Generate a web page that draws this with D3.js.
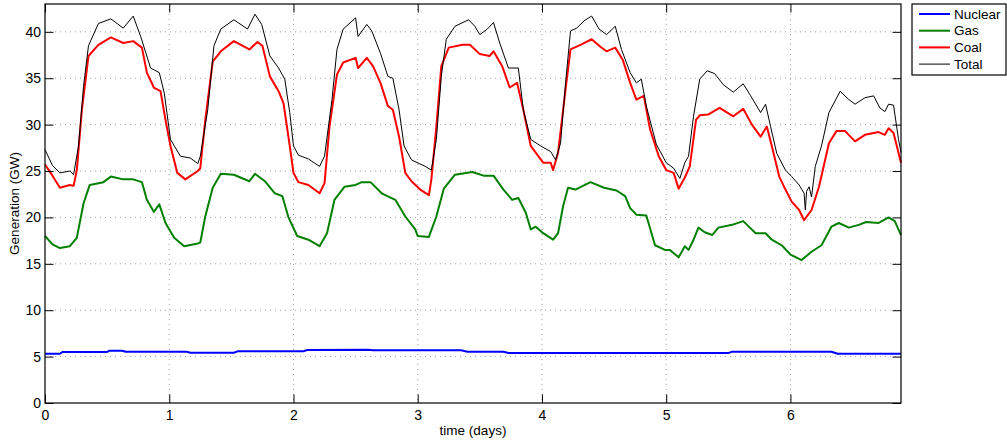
<!DOCTYPE html>
<html>
<head>
<meta charset="utf-8">
<script src="https://cdn.jsdelivr.net/npm/d3@7"></script>
<style>
  html, body { margin: 0; padding: 0; background: #fff; }
  svg { display: block; font-family: "Liberation Sans", Arial, Helvetica, sans-serif; }
</style>
</head>
<body>
<svg id="chart"></svg>
<script>
// [day, GW] samples
const nuclear = [[0,5.31],[0.12,5.31],[0.14,5.5],[0.5,5.5],[0.52,5.64],[0.62,5.64],[0.65,5.53],[1.14,5.53],[1.17,5.42],[1.52,5.42],[1.55,5.57],[2.08,5.57],[2.11,5.71],[2.6,5.73],[2.64,5.68],[3.35,5.68],[3.4,5.53],[3.69,5.53],[3.73,5.38],[5.5,5.38],[5.53,5.53],[6.33,5.53],[6.38,5.31],[6.89,5.31]];

const gas = [[0,18.0],[0.06,17.1],[0.12,16.7],[0.2,16.9],[0.256,17.8],[0.31,21.5],[0.36,23.5],[0.47,23.8],[0.53,24.4],[0.63,24.1],[0.71,24.1],[0.78,23.8],[0.82,21.9],[0.876,20.6],[0.92,21.4],[0.97,19.4],[1.04,17.8],[1.12,16.9],[1.23,17.2],[1.25,17.3],[1.29,20.1],[1.35,23.2],[1.415,24.7],[1.52,24.6],[1.645,23.9],[1.69,24.7],[1.77,23.9],[1.85,22.6],[1.91,22.3],[1.96,20.0],[2.03,18.0],[2.12,17.6],[2.21,16.9],[2.27,18.3],[2.33,21.9],[2.41,23.3],[2.5,23.5],[2.55,23.8],[2.62,23.8],[2.71,22.6],[2.82,21.9],[2.9,20.1],[2.98,18.7],[3.0,18.0],[3.09,17.9],[3.15,20.1],[3.21,23.1],[3.3,24.6],[3.44,24.9],[3.53,24.5],[3.61,24.5],[3.69,23.0],[3.76,21.9],[3.81,22.1],[3.87,20.5],[3.91,18.7],[3.95,19.0],[4.01,18.3],[4.09,17.6],[4.13,18.3],[4.17,21.2],[4.21,23.2],[4.27,23.0],[4.39,23.8],[4.5,23.2],[4.6,22.9],[4.67,22.3],[4.71,21.0],[4.76,20.3],[4.84,20.2],[4.91,17.0],[4.99,16.5],[5.03,16.5],[5.1,15.7],[5.15,16.9],[5.18,16.5],[5.22,17.6],[5.26,18.9],[5.31,18.4],[5.37,18.1],[5.42,18.9],[5.53,19.2],[5.62,19.6],[5.72,18.3],[5.8,18.3],[5.85,17.6],[5.93,17.0],[6.0,16.0],[6.09,15.4],[6.17,16.3],[6.25,17.0],[6.33,19.0],[6.39,19.4],[6.47,18.9],[6.55,19.2],[6.61,19.5],[6.71,19.4],[6.79,20.0],[6.84,19.6],[6.89,18.1]];

const coal = [[0,25.7],[0.06,24.5],[0.12,23.2],[0.2,23.5],[0.23,23.4],[0.256,25.1],[0.297,31.6],[0.35,37.4],[0.43,38.6],[0.53,39.4],[0.63,38.8],[0.71,39.0],[0.78,38.3],[0.82,35.6],[0.876,34.0],[0.93,33.6],[0.97,30.5],[1.01,27.7],[1.065,24.8],[1.13,24.1],[1.23,25.0],[1.25,25.3],[1.29,30.5],[1.35,36.8],[1.415,37.9],[1.52,39.0],[1.645,38.1],[1.71,38.9],[1.75,38.5],[1.81,35.2],[1.88,33.6],[1.92,32.3],[1.97,27.7],[2.0,24.8],[2.04,23.8],[2.12,23.5],[2.21,22.6],[2.25,23.7],[2.29,29.8],[2.35,35.4],[2.4,36.7],[2.5,37.2],[2.52,36.1],[2.59,37.2],[2.64,36.3],[2.7,34.5],[2.76,32.0],[2.8,31.6],[2.85,28.7],[2.9,24.8],[2.95,23.9],[3.02,23.0],[3.09,22.4],[3.11,24.1],[3.15,29.8],[3.19,36.3],[3.25,38.3],[3.36,38.6],[3.42,38.6],[3.5,37.6],[3.58,37.4],[3.61,37.9],[3.68,36.3],[3.74,34.0],[3.8,34.5],[3.85,31.6],[3.91,27.7],[3.96,26.8],[4.01,25.9],[4.07,25.9],[4.09,25.1],[4.13,27.0],[4.19,33.8],[4.23,38.1],[4.31,38.6],[4.4,39.2],[4.47,38.4],[4.52,37.9],[4.59,38.3],[4.65,37.0],[4.71,34.5],[4.76,32.7],[4.82,33.1],[4.87,29.5],[4.94,26.6],[5.0,25.1],[5.06,24.8],[5.1,23.1],[5.15,24.3],[5.19,25.5],[5.24,30.5],[5.27,31.0],[5.34,31.1],[5.43,31.8],[5.54,30.9],[5.62,31.7],[5.69,30.0],[5.76,28.7],[5.81,29.8],[5.85,27.7],[5.91,24.4],[5.96,23.0],[6.01,21.7],[6.07,20.8],[6.11,19.7],[6.17,20.8],[6.23,23.3],[6.31,28.0],[6.37,29.3],[6.44,29.3],[6.52,28.2],[6.6,28.9],[6.71,29.2],[6.76,28.9],[6.79,29.6],[6.83,29.1],[6.89,25.9]];

const total = [[0,27.3],[0.06,25.6],[0.12,24.8],[0.2,25.0],[0.23,24.6],[0.27,27.7],[0.31,34.1],[0.35,38.5],[0.43,40.9],[0.53,41.4],[0.63,40.4],[0.71,41.7],[0.77,39.5],[0.85,36.1],[0.92,35.6],[0.96,33.4],[1.01,28.4],[1.09,26.6],[1.17,26.4],[1.23,25.8],[1.25,26.6],[1.31,31.6],[1.36,38.5],[1.415,40.3],[1.52,41.3],[1.63,40.3],[1.69,41.9],[1.744,40.8],[1.81,37.4],[1.88,36.1],[1.93,34.9],[1.97,31.3],[2.0,27.7],[2.04,26.7],[2.12,26.3],[2.21,25.5],[2.25,26.6],[2.31,32.7],[2.35,38.1],[2.4,40.3],[2.5,41.5],[2.52,39.5],[2.59,40.8],[2.63,40.1],[2.7,37.7],[2.76,35.2],[2.8,35.0],[2.85,31.6],[2.89,27.7],[2.95,26.2],[3.06,25.5],[3.11,25.1],[3.15,28.4],[3.19,35.2],[3.23,39.2],[3.3,40.6],[3.41,41.3],[3.46,40.6],[3.5,39.7],[3.56,40.3],[3.61,41.0],[3.66,38.8],[3.73,36.1],[3.81,36.1],[3.85,31.6],[3.91,28.4],[3.99,27.7],[4.07,27.1],[4.11,26.2],[4.15,28.0],[4.19,34.5],[4.23,40.1],[4.28,40.4],[4.34,41.2],[4.4,41.7],[4.46,40.3],[4.52,39.7],[4.59,40.6],[4.64,38.1],[4.71,35.6],[4.76,34.5],[4.8,34.9],[4.84,32.0],[4.92,27.9],[5.0,25.9],[5.06,25.3],[5.11,24.2],[5.15,25.9],[5.18,26.6],[5.22,30.9],[5.27,34.9],[5.33,35.8],[5.39,35.5],[5.46,34.3],[5.54,33.5],[5.62,34.4],[5.68,33.1],[5.76,31.3],[5.8,32.2],[5.84,29.8],[5.89,26.9],[5.96,25.1],[6.01,24.4],[6.07,23.5],[6.11,22.6],[6.12,20.8],[6.13,22.8],[6.15,23.3],[6.17,22.2],[6.2,25.5],[6.25,27.7],[6.31,31.3],[6.4,33.6],[6.47,32.7],[6.52,32.2],[6.6,32.9],[6.67,33.1],[6.72,31.8],[6.76,31.4],[6.79,32.2],[6.83,32.1],[6.87,28.4],[6.89,27.0]];

const seriesNames = ["Nuclear", "Gas", "Coal", "Total"];
const seriesColors = ["#0000ff", "#008000", "#ff0000", "#000000"];
const seriesWidths = [2, 2, 2, 1];
const xTicks = [0, 1, 2, 3, 4, 5, 6];
const yTicks = [0, 5, 10, 15, 20, 25, 30, 35, 40];
const xMax = 6.89, yMax = 43;

const W = 1007, H = 442;
const m = { left: 45, right: 106, top: 4, bottom: 39 };
const iw = W - m.left - m.right, ih = H - m.top - m.bottom;
const tickLen = 8.5;
const tickFont = 14, labelFont = 13.5;

const svg = d3.select("#chart").attr("width", W).attr("height", H);
const g = svg.append("g").attr("transform", `translate(${m.left},${m.top})`);

const x = d3.scaleLinear().domain([0, xMax]).range([0, iw]);
const y = d3.scaleLinear().domain([0, yMax]).range([ih, 0]);

// dotted grid
g.selectAll(".gx").data(xTicks.slice(1)).join("line")
    .attr("x1", d => x(d)).attr("x2", d => x(d))
    .attr("y1", 0).attr("y2", ih)
    .attr("stroke", "#8c8c8c").attr("stroke-width", 0.8)
    .attr("stroke-dasharray", "1,4");
g.selectAll(".gy").data(yTicks.slice(1)).join("line")
    .attr("x1", 0).attr("x2", iw)
    .attr("y1", d => y(d)).attr("y2", d => y(d))
    .attr("stroke", "#8c8c8c").attr("stroke-width", 0.8)
    .attr("stroke-dasharray", "1,4");

// series
const line = d3.line().x(d => x(d[0])).y(d => y(d[1]));
const allSeries = [nuclear, gas, coal, total];
g.selectAll(".series").data(allSeries).join("path")
    .attr("d", line)
    .attr("fill", "none")
    .attr("stroke", (d, i) => seriesColors[i])
    .attr("stroke-width", (d, i) => seriesWidths[i])
    .attr("stroke-linejoin", "round");

// axes: MATLAB-style inward ticks on all four sides
function styleAxis(sel) {
    sel.select(".domain").remove();
    sel.selectAll(".tick line").attr("stroke", "#000").attr("stroke-width", 1);
    sel.selectAll("text").attr("fill", "#000").style("font-size", tickFont + "px");
}
g.append("g").attr("transform", `translate(0,${ih})`)
    .call(d3.axisBottom(x).tickValues(xTicks).tickSize(-tickLen).tickPadding(7).tickFormat(d3.format("d")))
    .call(styleAxis);
g.append("g")
    .call(d3.axisTop(x).tickValues(xTicks).tickSize(-tickLen).tickFormat(""))
    .call(styleAxis);
g.append("g")
    .call(d3.axisLeft(y).tickValues(yTicks).tickSize(-tickLen).tickPadding(4).tickFormat(d3.format("d")))
    .call(styleAxis);
g.append("g").attr("transform", `translate(${iw},0)`)
    .call(d3.axisRight(y).tickValues(yTicks).tickSize(-tickLen).tickFormat(""))
    .call(styleAxis);

g.append("rect")
    .attr("width", iw).attr("height", ih)
    .attr("fill", "none").attr("stroke", "#000").attr("stroke-width", 1.2);

// axis labels
g.append("text")
    .attr("x", iw / 2).attr("y", ih + 32)
    .attr("text-anchor", "middle")
    .style("font-size", labelFont + "px")
    .text("time (days)");
g.append("text")
    .attr("transform", `translate(${-26},${ih / 2}) rotate(-90)`)
    .attr("text-anchor", "middle")
    .style("font-size", labelFont + "px")
    .text("Generation (GW)");

// legend
const legend = svg.append("g").attr("transform", `translate(${m.left + iw + 11},${m.top})`);
legend.append("rect")
    .attr("width", 94).attr("height", 71)
    .attr("fill", "#fff").attr("stroke", "#000").attr("stroke-width", 1.2);
const item = legend.selectAll(".item").data(seriesNames).join("g")
    .attr("transform", (d, i) => `translate(0,${10 + i * 16.7})`);
item.append("line")
    .attr("x1", 7).attr("x2", 38)
    .attr("stroke", (d, i) => seriesColors[i])
    .attr("stroke-width", (d, i) => seriesWidths[i]);
item.append("text")
    .attr("x", 42).attr("dy", "0.35em")
    .style("font-size", labelFont + "px")
    .text(d => d);
</script>
</body>
</html>
